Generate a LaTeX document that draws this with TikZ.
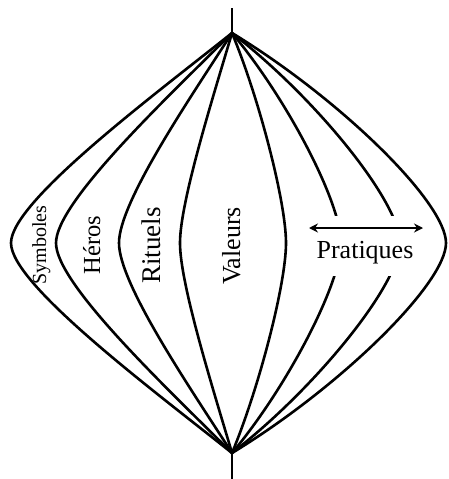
\documentclass[tikz,border=0pt]{standalone}
\usepackage{fontspec}
\setmainfont{Liberation Serif}
\usetikzlibrary{arrows.meta}
\begin{document}
\begin{tikzpicture}[x=1pt,y=-1pt,
  curve/.style={line width=2.6pt},
  lab/.style={rotate=90, inner sep=0pt, anchor=base}]
\useasboundingbox (0,0) rectangle (448,479);
\coordinate (top) at (232,33);
\coordinate (bot) at (232,453);
\coordinate (tipT) at (232,8);
\coordinate (tipB) at (232,479);
\draw[curve] (tipT) -- (top);
\draw[curve] (bot) -- (tipB);
\foreach \X/\f in {11/0.37,56/0.37,119/0.37,180/0.37,286/0.5,341/0.5,400/0.5,446/0.5} {
  \pgfmathsetmacro\dd{\X-232}
  \draw[curve] (top) .. controls ({232+\f*\dd},98) and (\X,202) .. (\X,243)
     .. controls (\X,284) and ({232+\f*\dd},388) .. (bot);
}
\node[fill=white, minimum width=132pt, minimum height=60pt, inner sep=0pt] (box) at (362,246) {};
\coordinate (aL) at (309,228);
\coordinate (aR) at (423,228);
\draw[line width=2pt, {Stealth[length=9pt,width=9pt]}-{Stealth[length=9pt,width=9pt]}] (aL) -- (aR);
\node[font=\fontsize{26}{30}\selectfont, anchor=base] (prat) at (365,258) {Pratiques};
\node[lab, font=\fontsize{20}{24}\selectfont] (sym) at (46,245) {Symboles};
\node[lab, font=\fontsize{24.5}{28}\selectfont] (her) at (100,245) {Héros};
\node[lab, font=\fontsize{27}{30}\selectfont] (rit) at (160,245.5) {Rituels};
\node[lab, font=\fontsize{26}{30}\selectfont] (val) at (240,246) {Valeurs};
\end{tikzpicture}
\end{document}
